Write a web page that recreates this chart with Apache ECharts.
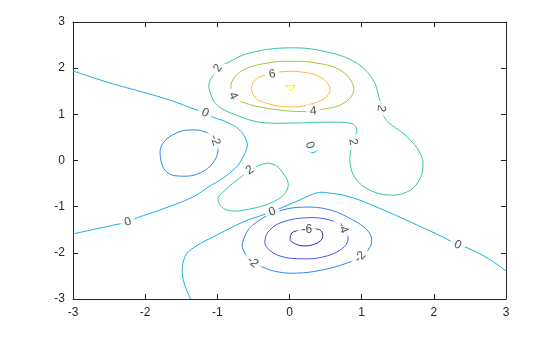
<!DOCTYPE html>
<html><head><meta charset="utf-8">
<script src="https://cdn.jsdelivr.net/npm/echarts@6/dist/echarts.min.js"></script>
<style>html,body{margin:0;padding:0;background:#fff}#c{width:560px;height:337px}</style>
</head><body><div id="c"></div>
<script>
// contour levels and colours
const levels = [-6, -4, -2, 0, 2, 4, 6, 8];
const xTicks = [-3, -2, -1, 0, 1, 2, 3];
const yTicks = [-3, -2, -1, 0, 1, 2, 3];

// contour polylines (data units)
const c2top = [[-0.99,2.00],[-0.87,2.11],[-0.55,2.33],[0.01,2.44],[0.52,2.35],[0.93,2.11],[1.16,1.74],[1.25,1.31],[1.32,0.92],[1.63,0.51],[1.81,0.16],[1.85,-0.14],[1.78,-0.47],[1.63,-0.68],[1.39,-0.75],[1.11,-0.64],[0.91,-0.38],[0.84,-0.05],[0.85,0.23],[0.88,0.40],[0.93,0.62],[0.92,0.73],[0.84,0.81],[0.46,0.83],[0.01,0.81],[-0.41,0.83],[-0.73,0.98],[-1.00,1.20],[-1.11,1.53],[-1.10,1.74],[-1.03,1.89]];
const c4 = [[-0.78,1.40],[-0.80,1.70],[-0.64,1.96],[-0.31,2.11],[0.01,2.15],[0.38,2.11],[0.70,1.96],[0.87,1.68],[0.87,1.42],[0.70,1.20],[0.46,1.11],[0.33,1.07],[0.01,1.07],[-0.41,1.16],[-0.66,1.27],[-0.73,1.35]];
const c6 = [[-0.52,1.63],[-0.41,1.81],[-0.24,1.87],[-0.13,1.92],[0.15,1.92],[0.42,1.81],[0.56,1.57],[0.49,1.35],[0.24,1.20],[0.01,1.16],[-0.27,1.22],[-0.48,1.37]];
const c8 = [[-0.06,1.62],[0.08,1.62],[0.01,1.51]];
const c0left = [[-3.00,1.94],[-2.49,1.68],[-2.03,1.48],[-1.66,1.31],[-1.28,1.09],[-1.17,1.03],[-1.06,0.94],[-0.87,0.83],[-0.69,0.66],[-0.59,0.40],[-0.60,0.23],[-0.69,-0.05],[-0.78,-0.21],[-0.96,-0.42],[-1.10,-0.55],[-1.34,-0.79],[-1.79,-1.07],[-2.11,-1.24],[-2.24,-1.33],[-2.44,-1.40],[-3.00,-1.59]];
const cm2left = [[-1.79,0.08],[-1.75,0.38],[-1.56,0.60],[-1.38,0.66],[-1.17,0.62],[-1.03,0.44],[-0.99,0.23],[-1.06,-0.05],[-1.24,-0.27],[-1.48,-0.34],[-1.70,-0.25]];
const c0small = [[0.24,0.26],[0.26,0.20],[0.31,0.17],[0.36,0.19],[0.39,0.25],[0.37,0.31],[0.31,0.34],[0.26,0.32]];
const c2mid = [[-0.55,-0.21],[-0.41,-0.10],[-0.24,-0.07],[-0.09,-0.27],[-0.02,-0.57],[-0.17,-0.85],[-0.55,-1.05],[-0.87,-1.07],[-0.99,-0.85],[-0.89,-0.64],[-0.69,-0.38]];
const c0low = [[-1.37,-3.00],[-1.48,-2.52],[-1.45,-2.09],[-1.31,-1.87],[-1.00,-1.61],[-0.64,-1.33],[-0.37,-1.18],[-0.24,-1.11],[-0.09,-1.01],[0.15,-0.85],[0.38,-0.70],[0.52,-0.70],[0.84,-0.79],[1.30,-1.07],[1.77,-1.40],[2.13,-1.66],[2.33,-1.83],[2.46,-1.89],[2.74,-2.11],[3.00,-2.39]];
const cm2low = [[-0.51,-2.20],[-0.64,-1.94],[-0.64,-1.72],[-0.51,-1.40],[-0.17,-1.11],[0.19,-1.01],[0.56,-1.07],[0.88,-1.29],[1.07,-1.50],[1.14,-1.72],[1.09,-1.94],[0.98,-2.09],[0.80,-2.22],[0.46,-2.37],[0.10,-2.44],[-0.17,-2.41],[-0.37,-2.31]];
const cm4 = [[-0.34,-1.72],[-0.27,-1.50],[-0.09,-1.33],[0.24,-1.24],[0.56,-1.29],[0.74,-1.46],[0.81,-1.72],[0.70,-1.94],[0.46,-2.09],[0.19,-2.13],[-0.13,-2.07],[-0.31,-1.89]];
const cm6 = [[0.01,-1.66],[0.05,-1.55],[0.24,-1.50],[0.42,-1.50],[0.46,-1.66],[0.38,-1.79],[0.19,-1.85],[0.03,-1.76]];

// contour labels: text, x, y, rotation
const labelText = ['2','6','4','4','2','2','0','-2','0','2','0','0','0','-6','-4','-2','-2'];
const labelX = [-0.99,-0.24,-0.78,0.33,1.27,0.88,-1.17,-1.03,0.28,-0.55,-2.24,-0.24,2.33,0.24,0.74,-0.51,0.98];
const labelY = [2.00,1.87,1.40,1.07,1.13,0.40,1.03,0.44,0.33,-0.21,-1.33,-1.11,-1.83,-1.50,-1.46,-2.20,-2.09];
const labelRot = [55,10,-65,5,-100,-80,-25,-70,-70,35,15,20,-25,0,-70,-40,45];

const levelColor = {'-6':'#3f2bb5','-4':'#4858ef','-2':'#2e87f0','0':'#17b1de','2':'#35c5a2','4':'#a9c23c','6':'#fbba3b','8':'#f2f018'};
// [level, points, closed, smooth]
const contours = [
  [2, c2top, true, 0.4],[4, c4, true, 0.4],[6, c6, true, 0.4],[8, c8, true, 0],
  [0, c0left, false, 0.4],[-2, cm2left, true, 0.4],[0, c0small, true, 0.4],
  [2, c2mid, true, 0.4],[0, c0low, false, 0.4],[-2, cm2low, true, 0.4],
  [-4, cm4, true, 0.4],[-6, cm6, true, 0.4]
];

const axisCol = '#262626';
const font = 'Liberation Sans, Arial, sans-serif';
const series = contours.map(([lv, pts, closed, sm]) => ({
  type: 'custom', data: pts, silent: true, z: 2, clip: true,
  encode: {x: 0, y: 1},
  renderItem: function (params, api) {
    if (params.dataIndex !== 0) return null;
    const p = pts.map(d => api.coord(d));
    return {
      type: closed ? 'polygon' : 'polyline',
      shape: {points: p, smooth: sm},
      style: {fill: null, stroke: levelColor[String(lv)], lineWidth: 1}
    };
  }
}));
series.push({
  type: 'scatter', symbolSize: 0, silent: true, z: 5,
  data: labelText.map((t, i) => ({
    value: [labelX[i], labelY[i]], name: t,
    label: {rotate: labelRot[i]}
  })),
  label: {show: true, position: 'inside', formatter: p => p.name,
    color: '#262626', fontSize: 12, fontFamily: font,
    backgroundColor: '#fff', padding: [1, 4]}
});

const chart = echarts.init(document.getElementById('c'), null, {renderer: 'canvas'});
const axBase = {
  type: 'value', min: -3, max: 3, interval: 1,
  axisLine: {show: true, onZero: false, lineStyle: {color: axisCol, width: 1}},
  axisTick: {show: true, inside: true, length: 5, lineStyle: {color: axisCol}},
  splitLine: {show: false}
};
chart.setOption({
  animation: false,
  backgroundColor: '#fff',
  grid: {left: 73, right: 54, top: 22, bottom: 38, containLabel: false},
  xAxis: [
    Object.assign({}, axBase, {position: 'bottom',
      axisLabel: {color: axisCol, fontSize: 12, fontFamily: font, margin: 8,
        formatter: v => xTicks.includes(v) ? String(v) : ''}}),
    Object.assign({}, axBase, {position: 'top', axisLabel: {show: false}})
  ],
  yAxis: [
    Object.assign({}, axBase, {position: 'left',
      axisLabel: {color: axisCol, fontSize: 12, fontFamily: font, margin: 8,
        formatter: v => yTicks.includes(v) ? String(v) : ''}}),
    Object.assign({}, axBase, {position: 'right', axisLabel: {show: false}})
  ],
  series: series
});
</script></body></html>
